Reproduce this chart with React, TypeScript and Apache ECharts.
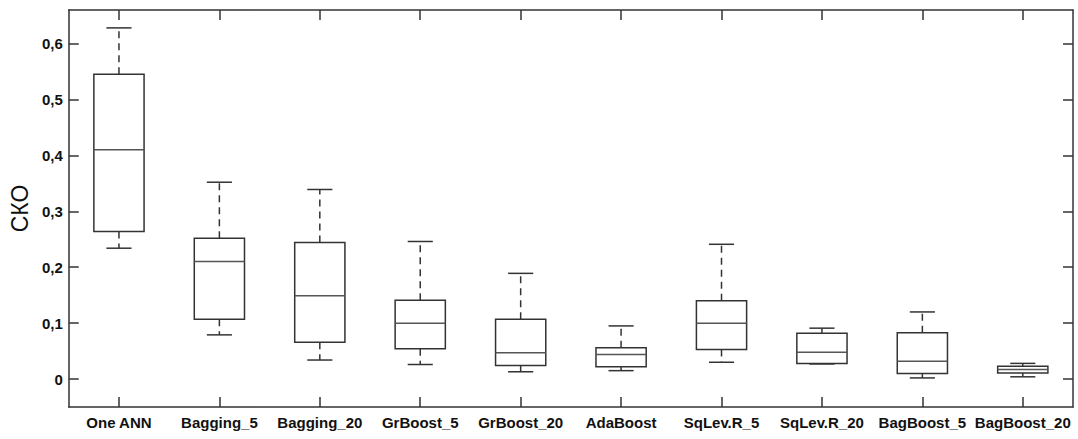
import React, { useEffect, useRef } from "react";
import * as echarts from "echarts";

const categories = [
  "One ANN",
  "Bagging_5",
  "Bagging_20",
  "GrBoost_5",
  "GrBoost_20",
  "AdaBoost",
  "SqLev.R_5",
  "SqLev.R_20",
  "BagBoost_5",
  "BagBoost_20",
];
const whiskerLow = [0.234, 0.079, 0.034, 0.026, 0.013, 0.015, 0.030, 0.027, 0.002, 0.004];
const quartile1 = [0.264, 0.107, 0.066, 0.054, 0.024, 0.022, 0.053, 0.028, 0.010, 0.011];
const medians = [0.410, 0.210, 0.149, 0.100, 0.047, 0.044, 0.100, 0.048, 0.032, 0.017];
const quartile3 = [0.545, 0.252, 0.244, 0.141, 0.107, 0.056, 0.140, 0.082, 0.083, 0.023];
const whiskerHigh = [0.628, 0.352, 0.339, 0.246, 0.189, 0.095, 0.241, 0.091, 0.120, 0.028];
const yTicks = [0, 0.1, 0.2, 0.3, 0.4, 0.5, 0.6];

const LINE = "#333333";
const FONT = "Liberation Sans";

export default function App() {
  const ref = useRef<HTMLDivElement>(null);
  useEffect(() => {
    if (!ref.current) return;
    const chart = echarts.init(ref.current, null, { renderer: "svg" });
    const data = categories.map((_, i) => [
      i,
      whiskerLow[i],
      quartile1[i],
      medians[i],
      quartile3[i],
      whiskerHigh[i],
    ]);
    const fmt = (v: number) => (v === 0 ? "0" : v.toFixed(1).replace(".", ","));
    const yBase = {
      type: "value" as const,
      min: -0.05,
      max: 0.66,
      splitLine: { show: false },
      axisLine: { show: true, onZero: false, lineStyle: { color: LINE, width: 1.5 } },
    };
    chart.setOption({
      animation: false,
      backgroundColor: "#ffffff",
      grid: { left: 68, right: 5, top: 10, bottom: 32, containLabel: false },
      xAxis: [
        {
          type: "category",
          data: categories,
          position: "bottom",
          boundaryGap: true,
          axisLine: { show: true, onZero: false, lineStyle: { color: LINE, width: 1.5 } },
          axisTick: { show: true, inside: true, length: 10, alignWithLabel: true, lineStyle: { color: LINE, width: 1.5 } },
          axisLabel: { margin: 8, fontFamily: FONT, fontWeight: "bold", fontSize: 15, color: "#111", interval: 0 },
          splitLine: { show: false },
        },
        {
          type: "category",
          data: categories,
          position: "top",
          boundaryGap: true,
          axisLine: { show: true, onZero: false, lineStyle: { color: LINE, width: 1.5 } },
          axisTick: { show: true, inside: true, length: 10, alignWithLabel: true, lineStyle: { color: LINE, width: 1.5 } },
          axisLabel: { show: false },
          splitLine: { show: false },
        },
      ],
      yAxis: [
        {
          ...yBase,
          position: "left",
          name: "СКО",
          nameLocation: "middle",
          nameGap: 34,
          nameTextStyle: { fontFamily: FONT, fontSize: 23, color: "#111" },
          axisTick: { show: true, inside: true, length: 10, customValues: yTicks, lineStyle: { color: LINE, width: 1.5 } },
          axisLabel: { margin: 6, customValues: yTicks, formatter: fmt, fontFamily: FONT, fontWeight: "bold", fontSize: 15, color: "#111" },
        },
        {
          ...yBase,
          position: "right",
          axisTick: { show: true, inside: true, length: 10, customValues: yTicks, lineStyle: { color: LINE, width: 1.5 } },
          axisLabel: { show: false },
        },
      ],
      series: [
        {
          type: "custom",
          xAxisIndex: 0,
          yAxisIndex: 0,
          encode: { x: 0, y: [1, 2, 3, 4, 5] },
          data,
          renderItem: (params: any, api: any) => {
            const idx = api.value(0);
            const band = api.size([1, 0])[0];
            const bw = band * 0.5;
            const cw = bw * 0.5;
            const pLow = api.coord([idx, api.value(1)]);
            const pQ1 = api.coord([idx, api.value(2)]);
            const pMed = api.coord([idx, api.value(3)]);
            const pQ3 = api.coord([idx, api.value(4)]);
            const pHigh = api.coord([idx, api.value(5)]);
            const x = pMed[0];
            const solid = { stroke: LINE, lineWidth: 1.5, fill: null };
            const dashed = { stroke: LINE, lineWidth: 1.5, lineDash: [7, 5], fill: null };
            return {
              type: "group",
              children: [
                { type: "line", shape: { x1: x, y1: pQ3[1], x2: x, y2: pHigh[1] }, style: dashed },
                { type: "line", shape: { x1: x, y1: pQ1[1], x2: x, y2: pLow[1] }, style: dashed },
                { type: "line", shape: { x1: x - cw / 2, y1: pHigh[1], x2: x + cw / 2, y2: pHigh[1] }, style: solid },
                { type: "line", shape: { x1: x - cw / 2, y1: pLow[1], x2: x + cw / 2, y2: pLow[1] }, style: solid },
                {
                  type: "rect",
                  shape: { x: x - bw / 2, y: pQ3[1], width: bw, height: pQ1[1] - pQ3[1] },
                  style: { stroke: LINE, lineWidth: 1.5, fill: "#ffffff" },
                },
                { type: "line", shape: { x1: x - bw / 2, y1: pMed[1], x2: x + bw / 2, y2: pMed[1] }, style: { stroke: "#555555", lineWidth: 1.5 } },
              ],
            };
          },
        },
      ],
    });
    return () => chart.dispose();
  }, []);
  return (
    <div
      ref={ref}
      style={{ position: "fixed", left: 0, top: 0, width: 1078, height: 439, background: "#fff" }}
    />
  );
}
